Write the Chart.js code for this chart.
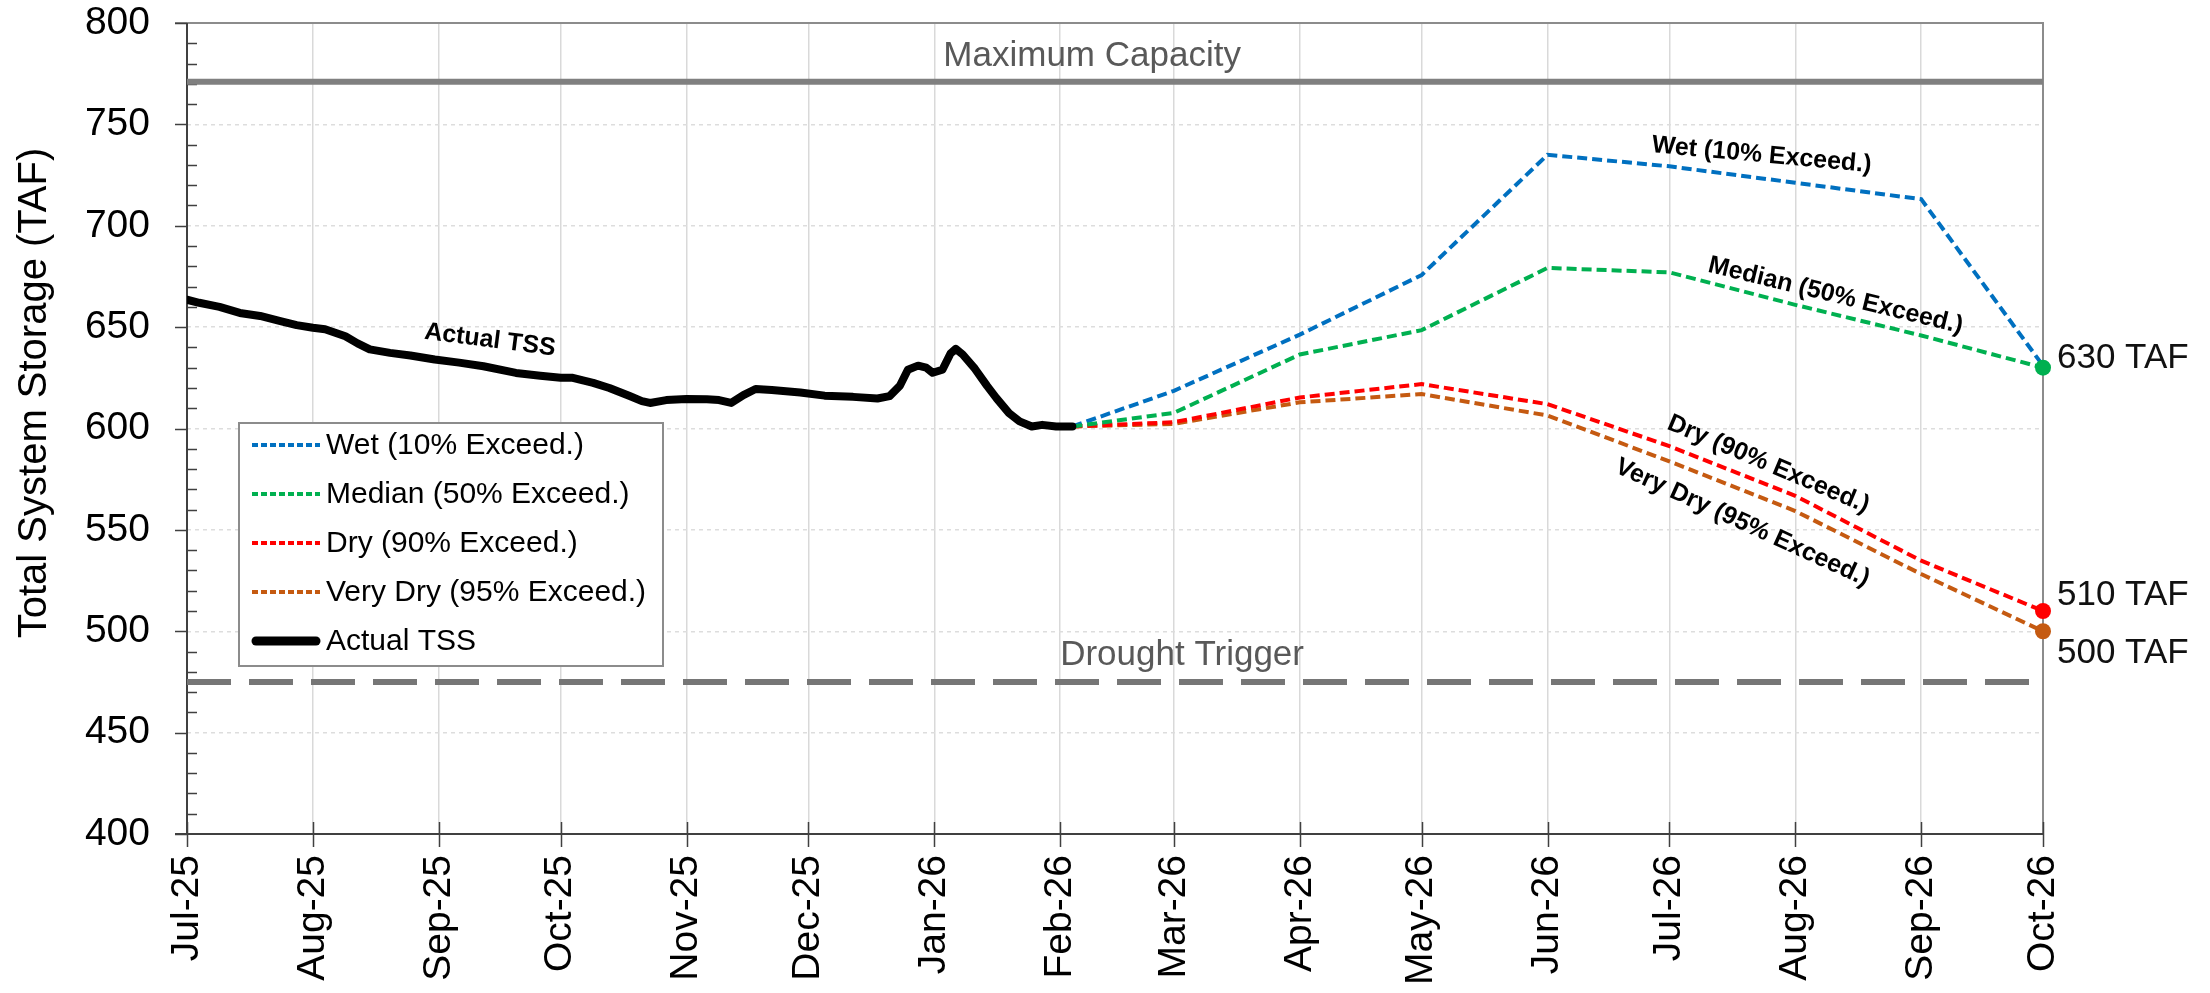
<!DOCTYPE html>
<html>
<head>
<meta charset="utf-8">
<script src="https://cdn.jsdelivr.net/npm/chart.js@4.4.1/dist/chart.umd.min.js"></script>
<style>
  html, body { margin: 0; padding: 0; background: #fff; }
  #wrap { width: 2210px; height: 993px; position: relative; }
</style>
</head>
<body>
<div id="wrap"><canvas id="myChart"></canvas></div>
<script>
// x values are days counted from 1 Jul 2025
var monthLabels = ["Jul-25", "Aug-25", "Sep-25", "Oct-25", "Nov-25", "Dec-25", "Jan-26", "Feb-26",
  "Mar-26", "Apr-26", "May-26", "Jun-26", "Jul-26", "Aug-26", "Sep-26", "Oct-26"];
var monthDays = [0, 31, 62, 92, 123, 153, 184, 215, 243, 274, 304, 335, 365, 396, 427, 457];

var actualDays = [0, 3, 8, 13, 18, 23, 27, 31, 34, 39, 42, 45, 50, 55, 61, 67, 73, 81, 87, 92, 95, 100,
  104, 109, 112, 114, 118, 123, 128, 131, 134, 137, 140, 144, 151, 157, 164, 170, 173, 175.5, 177.5,
  180, 182, 183.6, 186, 188, 189.3, 191, 194, 197, 199.3, 202.4, 205, 208, 210.6, 214, 218];
var actualTSS = [663.5, 662, 660, 657, 655.5, 653, 651, 649.7, 649, 645.5, 642, 639, 637.3, 636, 634,
  632.5, 630.7, 627.4, 626, 625, 625, 622.5, 620, 616, 613.5, 612.6, 614, 614.6, 614.4, 614, 612.6,
  616.5, 619.5, 619, 617.8, 616.2, 615.6, 614.8, 616, 621, 629, 631, 630, 627.5, 629, 637, 639.3,
  636.5, 629.5, 621, 615, 607.6, 603.5, 601, 601.8, 601, 601];

var forecastDays = [218, 243, 274, 304, 335, 365, 396, 427, 457];
var wetValues = [601, 618.6, 646.3, 675.7, 735, 729.3, 721.2, 713.1, 631];
var medianValues = [601, 607.7, 636.5, 648.5, 679.2, 677, 661, 645.9, 630];
var dryValues = [601, 603.1, 615.3, 621.9, 612, 591.3, 566.8, 534.8, 510];
var veryDryValues = [601, 602.3, 612.9, 617, 606.4, 583.8, 559.3, 528.2, 500];

var maxCapacity = 771;
var droughtTrigger = 475;

var FONT = 'Arial, "Liberation Sans", Helvetica, sans-serif';

function pairs(xs, ys) {
  return xs.map(function (x, i) { return { x: x, y: ys[i] }; });
}

function lastOnly(ctx) {
  return ctx.dataIndex === ctx.dataset.data.length - 1 ? 8 : 0;
}

// label placement (not data)
var lineNotes = [
  { text: "Maximum Capacity", day: 185, value: maxCapacity, dx: 5, dy: -16 },
  { text: "Drought Trigger", day: 215, value: droughtTrigger, dx: 0, dy: -17 }
];
var seriesNotes = [
  { text: "Actual TSS", day: 74.6, value: 643.5, angle: 7.3 },
  { text: "Wet (10% Exceed.)", day: 387.7, value: 734.8, angle: 5.2 },
  { text: "Median (50% Exceed.)", day: 405.9, value: 665.5, angle: 13.7 },
  { text: "Dry (90% Exceed.)", day: 389.4, value: 582.3, angle: 23 },
  { text: "Very Dry (95% Exceed.)", day: 383, value: 553.5, angle: 24.5 }
];
var endNotes = [
  { label: "Median (50% Exceed.)", text: "630 TAF", dy: 0 },
  { label: "Dry (90% Exceed.)", text: "510 TAF", dy: -6 },
  { label: "Very Dry (95% Exceed.)", text: "500 TAF", dy: 32 }
];
var legendOrder = ["Wet (10% Exceed.)", "Median (50% Exceed.)", "Dry (90% Exceed.)",
  "Very Dry (95% Exceed.)", "Actual TSS"];

var decor = {
  id: "decor",
  beforeDatasetsDraw: function (chart) {
    var ctx = chart.ctx, a = chart.chartArea;
    var xs = chart.scales.x, ys = chart.scales.y;
    ctx.save();
    // plot frame (top + right)
    ctx.strokeStyle = "#8C8C8C";
    ctx.lineWidth = 2;
    ctx.beginPath();
    ctx.moveTo(a.left - 12, a.top);
    ctx.lineTo(a.right, a.top);
    ctx.lineTo(a.right, a.bottom);
    ctx.stroke();
    // axes
    ctx.strokeStyle = "#404040";
    ctx.beginPath();
    ctx.moveTo(a.left, a.top);
    ctx.lineTo(a.left, a.bottom);
    ctx.moveTo(a.left - 12, a.bottom);
    ctx.lineTo(a.right, a.bottom);
    ctx.stroke();
    ctx.lineWidth = 1.5;
    ctx.beginPath();
    for (var v = 400; v <= 800; v += 10) {
      var py = Math.round(ys.getPixelForValue(v)) + 0.5;
      if (v % 50 === 0) {
        ctx.moveTo(a.left - 12, py);
        ctx.lineTo(a.left, py);
      } else {
        ctx.moveTo(a.left, py);
        ctx.lineTo(a.left + 10, py);
      }
    }
    monthDays.forEach(function (d) {
      var px = Math.round(xs.getPixelForValue(d)) + 0.5;
      ctx.moveTo(px, a.bottom - 12);
      ctx.lineTo(px, a.bottom + 13);
    });
    ctx.stroke();
    ctx.restore();
  },
  afterDatasetsDraw: function (chart) {
    var ctx = chart.ctx, a = chart.chartArea;
    var xs = chart.scales.x, ys = chart.scales.y;
    var sets = chart.data.datasets;
    function byLabel(l) {
      for (var i = 0; i < sets.length; i++) if (sets[i].label === l) return i;
      return -1;
    }
    ctx.save();

    // y axis title
    ctx.save();
    ctx.translate(46, 393);
    ctx.rotate(-Math.PI / 2);
    ctx.font = "40px " + FONT;
    ctx.fillStyle = "#000";
    ctx.textAlign = "center";
    ctx.textBaseline = "alphabetic";
    ctx.fillText("Total System Storage (TAF)", 0, 0);
    ctx.restore();

    // reference line labels
    ctx.font = "35px " + FONT;
    ctx.fillStyle = "#595959";
    ctx.textAlign = "left";
    ctx.textBaseline = "alphabetic";
    lineNotes.forEach(function (n) {
      ctx.fillText(n.text, xs.getPixelForValue(n.day) + n.dx, ys.getPixelForValue(n.value) + n.dy);
    });

    // series labels along the lines
    ctx.font = "bold 25px " + FONT;
    ctx.fillStyle = "#000";
    ctx.textAlign = "center";
    ctx.textBaseline = "middle";
    seriesNotes.forEach(function (n) {
      ctx.save();
      ctx.translate(xs.getPixelForValue(n.day), ys.getPixelForValue(n.value));
      ctx.rotate(n.angle * Math.PI / 180);
      ctx.fillText(n.text, 0, 0);
      ctx.restore();
    });

    // end values
    ctx.font = "35px " + FONT;
    ctx.fillStyle = "#111";
    ctx.textAlign = "left";
    ctx.textBaseline = "alphabetic";
    endNotes.forEach(function (n) {
      var meta = chart.getDatasetMeta(byLabel(n.label));
      var pt = meta.data[meta.data.length - 1];
      ctx.fillText(n.text, pt.x + 14, pt.y + n.dy);
    });

    // legend box
    var lx = a.left + 52, ly = a.top + 400, lw = 424, lh = 243;
    ctx.fillStyle = "#fff";
    ctx.fillRect(lx, ly, lw, lh);
    ctx.strokeStyle = "#8C8C8C";
    ctx.lineWidth = 2;
    ctx.strokeRect(lx, ly, lw, lh);
    ctx.font = "30px " + FONT;
    ctx.textBaseline = "middle";
    legendOrder.forEach(function (l, i) {
      var ds = sets[byLabel(l)];
      var ry = ly + 22 + 49 * i;
      ctx.save();
      ctx.strokeStyle = ds.borderColor;
      ctx.lineWidth = ds.borderDash ? 4 : 9;
      ctx.lineCap = ds.borderDash ? "butt" : "round";
      ctx.setLineDash(ds.borderDash ? [6, 3] : []);
      ctx.beginPath();
      ctx.moveTo(lx + (ds.borderDash ? 13 : 17), ry);
      ctx.lineTo(lx + (ds.borderDash ? 81 : 77), ry);
      ctx.stroke();
      ctx.restore();
      ctx.fillStyle = "#000";
      ctx.fillText(l, lx + 87, ry + 1);
    });
    ctx.restore();
  }
};

new Chart("myChart", {
  type: "line",
  data: {
    datasets: [
      { label: "Actual TSS", data: pairs(actualDays, actualTSS), borderColor: "#000000",
        borderWidth: 8, pointRadius: 0, borderJoinStyle: "round", borderCapStyle: "round", order: 0 },
      { label: "Median (50% Exceed.)", data: pairs(forecastDays, medianValues), borderColor: "#00B050",
        borderWidth: 4, borderDash: [10, 5], pointRadius: lastOnly, pointBackgroundColor: "#00B050",
        pointBorderWidth: 0, clip: false, order: 1 },
      { label: "Dry (90% Exceed.)", data: pairs(forecastDays, dryValues), borderColor: "#FF0000",
        borderWidth: 4, borderDash: [10, 5], pointRadius: lastOnly, pointBackgroundColor: "#FF0000",
        pointBorderWidth: 0, clip: false, order: 2 },
      { label: "Very Dry (95% Exceed.)", data: pairs(forecastDays, veryDryValues), borderColor: "#C55A11",
        borderWidth: 4, borderDash: [10, 5], pointRadius: lastOnly, pointBackgroundColor: "#C55A11",
        pointBorderWidth: 0, clip: false, order: 3 },
      { label: "Wet (10% Exceed.)", data: pairs(forecastDays, wetValues), borderColor: "#0070C0",
        borderWidth: 4, borderDash: [10, 5], pointRadius: 0, clip: false, order: 4 },
      { label: "Maximum Capacity", data: pairs([monthDays[0], monthDays[monthDays.length - 1]], [maxCapacity, maxCapacity]),
        borderColor: "#808080", borderWidth: 6, pointRadius: 0, order: 5 },
      { label: "Drought Trigger", data: pairs([monthDays[0], monthDays[monthDays.length - 1]], [droughtTrigger, droughtTrigger]),
        borderColor: "#767676", borderWidth: 6, borderDash: [44, 18], pointRadius: 0, order: 6 }
    ]
  },
  options: {
    responsive: true,
    maintainAspectRatio: false,
    animation: false,
    devicePixelRatio: 1,
    events: [],
    elements: { line: { tension: 0 } },
    layout: { padding: { left: 0, right: 167, top: 23, bottom: 0 } },
    plugins: { legend: { display: false }, tooltip: { enabled: false } },
    scales: {
      x: {
        type: "linear",
        min: monthDays[0],
        max: monthDays[monthDays.length - 1],
        afterBuildTicks: function (s) {
          s.ticks = monthDays.map(function (d) { return { value: d }; });
        },
        afterFit: function (s) {
          s.height = 159;
          s.paddingLeft = 0;
          s.paddingRight = 0;
        },
        ticks: {
          autoSkip: false,
          minRotation: 90,
          maxRotation: 90,
          padding: 21,
          color: "#000",
          font: { family: FONT, size: 39 },
          callback: function (v) { return monthLabels[monthDays.indexOf(v)]; }
        },
        grid: { color: "#D9D9D9", lineWidth: 1.5, drawTicks: false },
        border: { display: false }
      },
      y: {
        min: 400,
        max: 800,
        afterFit: function (s) {
          s.width = 187;
          s.paddingTop = 0;
          s.paddingBottom = 0;
        },
        ticks: {
          stepSize: 50,
          padding: 37,
          color: "#000",
          font: { family: FONT, size: 39 }
        },
        grid: { color: "#DDDDDD", lineWidth: 1.5, drawTicks: false },
        border: { display: false, dash: [4, 4] }
      }
    }
  },
  plugins: [decor]
});
</script>
</body>
</html>
